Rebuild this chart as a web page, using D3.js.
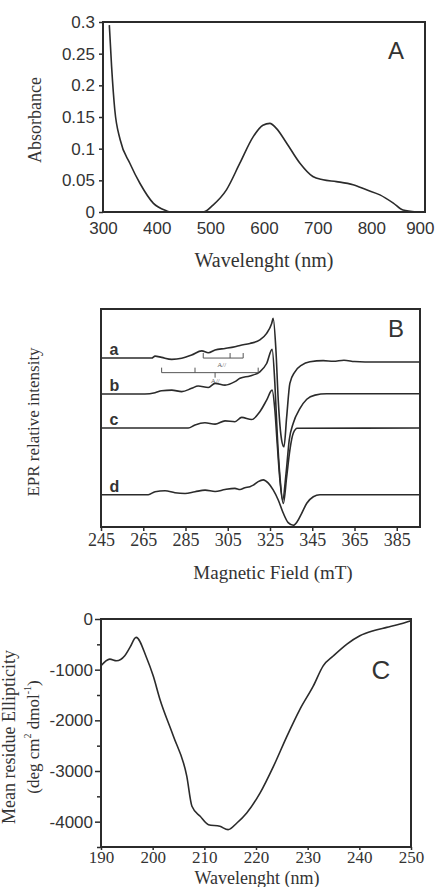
<!DOCTYPE html>
<html>
<head>
<meta charset="utf-8">
<script src="https://cdn.jsdelivr.net/npm/d3@7"></script>
<style>
body { margin: 0; background: #fff; }
svg { display: block; }
</style>
</head>
<body>
<div id="fig"></div>
<script>
// A: absorption spectrum
const absWavelength = [311.8, 316, 322, 332, 350, 369, 394, 418, 425, 487, 505, 530, 555, 580, 598, 611, 623, 642, 667, 691, 710, 735, 766, 791, 816, 841, 859, 884];
const absValue = [0.295, 0.23, 0.161, 0.114, 0.077, 0.045, 0.0137, 0.002, 0, 0, 0.011, 0.035, 0.077, 0.119, 0.137, 0.140, 0.132, 0.109, 0.077, 0.056, 0.051, 0.048, 0.043, 0.035, 0.027, 0.014, 0.003, 0];
const absXTicks = [300, 400, 500, 600, 700, 800, 900];
const absYTicks = [0, 0.05, 0.1, 0.15, 0.2, 0.25, 0.3];

// B: EPR spectra, [field mT, intensity relative to own baseline]
const eprA = [[245,0],[269.0,0],[270.6,0.9],[273.7,0.3],[278.5,-0.6],[283.2,-0.1],[287.9,1.4],[292.7,3.3],[295.8,2.4],[299.0,3.7],[303.7,4.4],[308.4,5.2],[310.8,5.8],[315.5,6.7],[320.2,8.3],[323.4,11.3],[325.8,15.9],[326.5,18.2],[327.8,3.7],[328.9,-19.3],[330.5,-37.6],[331.6,-40.7],[332.9,-26.9],[334.4,-11.6],[336.8,-6.3],[340.0,-3.2],[343.9,-1.7],[350.2,-1.2],[355,-1.5],[360,-1.0],[365,-1.6],[370,-1.8],[396,-1.8]];
const eprB = [[245,0],[265.8,0],[270.6,0.6],[273.7,1.5],[278.5,1.8],[283.2,1.1],[287.9,2.6],[291.0,3.7],[295.8,3.0],[299.0,4.9],[303.7,4.1],[308.4,5.7],[310.8,7.2],[315.5,8.3],[320.2,10.2],[323.4,14.0],[326.0,20.5],[327.3,4.9],[328.4,-18.0],[329.7,-37.9],[331.0,-48.6],[332.6,-36.4],[334.1,-21.1],[336.0,-13.4],[339.2,-6.6],[342.4,-2.4],[346.3,-0.5],[351.8,0.1],[396,0.1]];
const eprC = [[245,0],[286.3,0],[289.5,1.4],[294.2,2.4],[299.0,1.8],[303.7,3.3],[308.4,2.9],[311.6,4.9],[316.3,3.9],[320.2,7.5],[323.4,12.8],[326.0,17.4],[327.3,8.3],[328.4,-7.0],[329.7,-23.9],[331.3,-34.6],[332.9,-22.3],[334.4,-10.1],[336.0,-2.4],[337.9,-0.1],[396,0]];
const eprD = [[245,0],[267.4,0],[270.6,1.4],[275.3,1.8],[280.0,0.9],[284.8,0.6],[289.5,1.4],[294.3,2.1],[299.0,1.5],[303.7,2.4],[308.4,2.9],[310.8,2.4],[313.1,3.2],[315.5,3.7],[317.1,4.4],[319.4,6.0],[321.8,6.8],[324.2,5.3],[326.5,2.2],[328.9,-2.4],[331.3,-8.5],[333.6,-12.8],[336.0,-14.0],[337.9,-12.3],[340.0,-8.5],[342.4,-3.9],[345.5,-0.9],[348.6,0],[396,0]];
const eprSpectra = [eprA, eprB, eprC, eprD];
const eprOffsets = [77.5, 61.0, 45.4, 14.8];
const eprNames = ["a", "b", "c", "d"];
const eprXTicks = [245, 265, 285, 305, 325, 345, 365, 385];
// hyperfine stick diagrams: level, span, ticks up, ticks down
const stickLevels = [77.5, 70.8];
const stickSpans = [[293.4, 312.3], [273.7, 319.4]];
const stickUp = [[293.4, 306.1, 312.3], [273.7, 289.5, 319.4]];
const stickDown = [[], [299.0]];

// C: CD spectrum
const cdWavelength = [190, 191.7, 193.0, 194.6, 195.6, 196.8, 198.8, 200.1, 201.4, 204.0, 206.6, 207.6, 209.2, 210.8, 213.0, 214.6, 216.3, 218.2, 220.8, 223.4, 226.0, 228.5, 231.1, 233.0, 235.0, 237.6, 240.1, 242.7, 245.3, 247.9, 250];
const cdValue = [-924, -792, -825, -726, -561, -363, -759, -1122, -1584, -2310, -3102, -3696, -3894, -4059, -4092, -4158, -4026, -3828, -3432, -2904, -2310, -1782, -1320, -924, -726, -495, -330, -231, -165, -99, -33];
const cdXTicks = [190, 200, 210, 220, 230, 240, 250];
const cdYTicks = [0, -1000, -2000, -3000, -4000];
const cdYMinor = [-500, -1500, -2500, -3500, -4500];

const ink = "#2b2b2b";
const textInk = "#333";
const serif = '"Liberation Serif", "Times New Roman", serif';
const sans = '"Liberation Sans", Arial, sans-serif';

const svg = d3.select("#fig").append("svg")
  .attr("width", 435)
  .attr("height", 887)
  .style("background", "#fff");

const styleAxis = (g, font, size) => {
  g.attr("font-family", font).attr("font-size", size);
  g.select(".domain").remove();
  g.selectAll(".tick line").attr("stroke", ink).attr("stroke-width", 1.5);
  g.selectAll(".tick text").attr("fill", textInk);
};

const frame = (x, y) => {
  const [x0, x1] = x.range(), [y0, y1] = y.range();
  svg.append("rect")
    .attr("x", x0).attr("y", y1)
    .attr("width", x1 - x0).attr("height", y0 - y1)
    .attr("fill", "none")
    .attr("stroke", ink)
    .attr("stroke-width", 2);
};

const title = (txt, cx, cy, font, size, rotate) => {
  return svg.append("text")
    .attr("transform", `translate(${cx},${cy})` + (rotate ? " rotate(-90)" : ""))
    .attr("text-anchor", "middle")
    .attr("dominant-baseline", "central")
    .attr("fill", textInk)
    .style("font-family", font)
    .style("font-size", size + "px")
    .text(txt);
};

const curve = (data, x, y) => {
  svg.append("path")
    .datum(data)
    .attr("fill", "none")
    .attr("stroke", ink)
    .attr("stroke-width", 1.6)
    .attr("stroke-linejoin", "round")
    .attr("d", d3.line().x(d => x(d[0])).y(d => y(d[1])).curve(d3.curveMonotoneX));
};

// ---- panel A
const xA = d3.scaleLinear().domain([300, 900]).range([103, 425]);
const yA = d3.scaleLinear().domain([0, 0.3]).range([212, 22]);

svg.append("g")
  .attr("transform", "translate(0,212)")
  .call(d3.axisBottom(xA).tickValues(absXTicks).tickSize(0).tickPadding(10))
  .call(styleAxis, sans, 17)
  // last label sits on the right edge of the window
  .call(g => g.selectAll(".tick text").filter(d => d === 900)
    .attr("text-anchor", "end").attr("x", 9));

svg.append("g")
  .attr("transform", "translate(103,0)")
  .call(d3.axisLeft(yA).tickValues(absYTicks).tickSize(4).tickPadding(4).tickFormat(d => String(d)))
  .call(styleAxis, sans, 17);

curve(d3.zip(absWavelength, absValue), xA, yA);
frame(xA, yA);
title("Wavelenght (nm)", 264, 260, serif, 20);
title("Absorbance", 35, 120, serif, 18, true);
title("A", 396, 50, sans, 24);

// ---- panel B
const xB = d3.scaleLinear().domain([245, 396]).range([101, 420]);
const yB = d3.scaleLinear().domain([0, 100]).range([527, 309]);

svg.append("g")
  .attr("transform", "translate(0,527)")
  .call(d3.axisBottom(xB).tickValues(eprXTicks).tickSize(4).tickPadding(2))
  .call(styleAxis, serif, 18);

eprSpectra.forEach((s, i) => {
  curve(s.map(d => [d[0], d[1] + eprOffsets[i]]), xB, yB);
  svg.append("text")
    .attr("x", xB(249))
    .attr("y", yB(eprOffsets[i]) - 3)
    .attr("fill", textInk)
    .style("font-family", sans)
    .style("font-weight", "bold")
    .style("font-size", "16px")
    .text(eprNames[i]);
});

// stick diagrams
stickLevels.forEach((lv, i) => {
  const g = svg.append("g").attr("stroke", "#555").attr("stroke-width", 1);
  g.append("line")
    .attr("x1", xB(stickSpans[i][0])).attr("x2", xB(stickSpans[i][1]))
    .attr("y1", yB(lv)).attr("y2", yB(lv));
  g.selectAll(".up").data(stickUp[i]).enter().append("line")
    .attr("x1", d => xB(d)).attr("x2", d => xB(d))
    .attr("y1", yB(lv)).attr("y2", yB(lv + 2.3));
  g.selectAll(".dn").data(stickDown[i]).enter().append("line")
    .attr("x1", d => xB(d)).attr("x2", d => xB(d))
    .attr("y1", yB(lv)).attr("y2", yB(lv - 2.3));
});
svg.append("text").attr("x", xB(300)).attr("y", yB(73.5)).attr("fill", "#666")
  .style("font-family", serif).style("font-size", "7px").text("A//");
svg.append("text").attr("x", xB(297)).attr("y", yB(66)).attr("fill", "#666")
  .style("font-family", serif).style("font-size", "7px").text("A//");

frame(xB, yB);
title("Magnetic Field (mT)", 273, 572, serif, 19);
title("EPR relative intensity", 33, 422, serif, 17, true);
title("B", 396, 328, sans, 24);

// ---- panel C
const xC = d3.scaleLinear().domain([190, 250]).range([101, 411]);
const yC = d3.scaleLinear().domain([-4500, 0]).range([847, 619]);

svg.append("g")
  .attr("transform", "translate(0,847)")
  .call(d3.axisBottom(xC).tickValues(cdXTicks).tickSize(3).tickPadding(1))
  .call(styleAxis, serif, 17);

svg.append("g")
  .attr("transform", "translate(101,0)")
  .call(d3.axisLeft(yC).tickValues(cdYTicks).tickSize(6).tickPadding(2).tickFormat(d => String(d)))
  .call(styleAxis, sans, 17);

svg.append("g")
  .attr("transform", "translate(101,0)")
  .call(d3.axisLeft(yC).tickValues(cdYMinor).tickSize(4).tickFormat(""))
  .call(styleAxis, sans, 17);

curve(d3.zip(cdWavelength, cdValue), xC, yC);
frame(xC, yC);
title("Wavelenght (nm)", 257, 878, serif, 18);
title("Mean residue Ellipticity", 9, 737, serif, 18, true);

const unit = title("", 33, 737, serif, 17, true);
unit.append("tspan").text("(deg cm");
unit.append("tspan").attr("dy", -6).style("font-size", "10px").text("2");
unit.append("tspan").attr("dy", 6).text(" dmol");
unit.append("tspan").attr("dy", -6).style("font-size", "10px").text("-1");
unit.append("tspan").attr("dy", 6).text(")");

title("C", 381, 670, sans, 26);
</script>
</body>
</html>
